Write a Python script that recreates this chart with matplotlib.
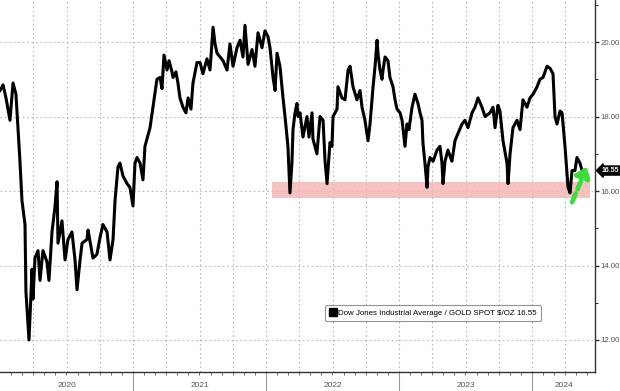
import numpy as np
import matplotlib
matplotlib.use("Agg")
import matplotlib.pyplot as plt
from matplotlib.lines import Line2D

# ---- data (decimal years, Dow / Gold ratio) ----
years = [2020.000, 2020.023, 2020.045, 2020.075, 2020.098, 2020.120, 2020.150, 2020.165, 2020.188, 2020.195,
         2020.218, 2020.241, 2020.248, 2020.263, 2020.286, 2020.301, 2020.323, 2020.353, 2020.368, 2020.391,
         2020.414, 2020.429, 2020.436, 2020.466, 2020.489, 2020.511, 2020.541, 2020.564, 2020.579, 2020.602,
         2020.617, 2020.654, 2020.662, 2020.699, 2020.729, 2020.752, 2020.774, 2020.805, 2020.827, 2020.850,
         2020.865, 2020.887, 2020.902, 2020.925, 2020.955, 2020.977, 2021.000, 2021.015, 2021.030, 2021.053,
         2021.075, 2021.090, 2021.113, 2021.128, 2021.150, 2021.180, 2021.203, 2021.218, 2021.233, 2021.256,
         2021.271, 2021.293, 2021.301, 2021.323, 2021.338, 2021.353, 2021.376, 2021.398, 2021.414, 2021.436,
         2021.451, 2021.481, 2021.504, 2021.526, 2021.556, 2021.579, 2021.602, 2021.617, 2021.632, 2021.654,
         2021.677, 2021.707, 2021.729, 2021.752, 2021.782, 2021.805, 2021.827, 2021.842, 2021.865, 2021.895,
         2021.917, 2021.940, 2021.970, 2021.992, 2022.015, 2022.030, 2022.053, 2022.068, 2022.083, 2022.105,
         2022.128, 2022.143, 2022.158, 2022.165, 2022.180, 2022.195, 2022.203, 2022.218, 2022.233, 2022.241,
         2022.256, 2022.278, 2022.308, 2022.323, 2022.346, 2022.353, 2022.383, 2022.406, 2022.429, 2022.444,
         2022.459, 2022.481, 2022.496, 2022.504, 2022.534, 2022.541, 2022.571, 2022.594, 2022.617, 2022.632,
         2022.654, 2022.684, 2022.707, 2022.722, 2022.744, 2022.767, 2022.782, 2022.805, 2022.820, 2022.835,
         2022.842, 2022.857, 2022.872, 2022.880, 2022.895, 2022.917, 2022.932, 2022.955, 2022.970, 2022.985,
         2023.008, 2023.023, 2023.045, 2023.060, 2023.075, 2023.098, 2023.120, 2023.143, 2023.158, 2023.173,
         2023.180, 2023.195, 2023.211, 2023.218, 2023.233, 2023.256, 2023.286, 2023.308, 2023.323, 2023.331,
         2023.346, 2023.368, 2023.398, 2023.421, 2023.444, 2023.474, 2023.496, 2023.519, 2023.549, 2023.571,
         2023.594, 2023.624, 2023.647, 2023.684, 2023.707, 2023.722, 2023.744, 2023.759, 2023.782, 2023.812,
         2023.820, 2023.835, 2023.857, 2023.887, 2023.910, 2023.932, 2023.962, 2023.985, 2024.008, 2024.038,
         2024.060, 2024.083, 2024.113, 2024.135, 2024.158, 2024.173, 2024.188, 2024.211, 2024.226, 2024.248,
         2024.271, 2024.286, 2024.301, 2024.323, 2024.338, 2024.361, 2024.376]
ratio = [18.70, 18.85, 18.50, 17.90, 18.90, 18.60, 16.80, 15.75, 15.10, 13.30,
         12.00, 13.90, 13.10, 14.20, 14.40, 13.60, 14.40, 14.10, 13.60, 14.90,
         15.60, 16.25, 14.60, 15.20, 14.15, 14.70, 14.90, 14.15, 13.35, 14.15,
         14.60, 14.70, 14.95, 14.20, 14.30, 14.75, 15.10, 14.90, 14.15, 14.70,
         15.75, 16.65, 16.75, 16.40, 16.20, 16.10, 15.60, 16.75, 16.90, 16.75,
         16.30, 17.20, 17.50, 17.70, 18.25, 19.00, 19.05, 18.75, 19.65, 19.25,
         19.50, 19.20, 19.05, 19.20, 18.90, 18.50, 18.25, 18.10, 18.50, 18.20,
         18.90, 19.45, 19.45, 19.15, 19.55, 19.25, 20.40, 19.95, 19.70, 19.60,
         19.50, 19.25, 19.95, 19.35, 19.85, 20.05, 19.60, 20.45, 19.40, 19.80,
         19.35, 20.25, 19.85, 20.30, 20.15, 19.85, 19.05, 18.70, 19.70, 19.35,
         18.50, 18.00, 17.45, 17.20, 15.95, 16.75, 17.65, 18.10, 18.35, 18.00,
         18.10, 17.45, 18.00, 17.45, 18.10, 17.40, 17.00, 18.00, 17.90, 16.80,
         16.20, 17.30, 17.20, 18.00, 18.20, 18.80, 18.50, 18.45, 19.25, 19.35,
         18.80, 18.45, 18.70, 18.25, 17.90, 17.35, 17.80, 18.80, 19.35, 20.05,
         19.70, 19.25, 19.00, 19.25, 19.60, 19.50, 19.05, 18.80, 18.45, 18.20,
         18.10, 17.90, 17.20, 17.80, 17.65, 18.25, 18.60, 18.35, 18.10, 17.90,
         17.30, 16.75, 16.10, 16.65, 16.90, 16.80, 17.10, 17.20, 16.75, 16.20,
         16.80, 17.10, 16.80, 17.35, 17.55, 17.80, 17.90, 17.70, 18.10, 18.25,
         18.50, 18.25, 18.00, 18.10, 18.25, 17.70, 18.30, 18.15, 17.35, 16.75,
         16.20, 17.00, 17.70, 17.90, 17.65, 18.45, 18.25, 18.50, 18.60, 18.80,
         19.00, 19.05, 19.35, 19.30, 19.15, 18.00, 17.80, 18.15, 18.10, 17.20,
         16.10, 15.95, 16.55, 16.55, 16.90, 16.75, 16.55]

series_label = "Dow Jones Industrial Average / GOLD SPOT $/OZ"
year_labels = ["2020", "2021", "2022", "2023", "2024"]
y_major = [12, 14, 16, 18, 20]
support_band = (15.80, 16.25)          # highlighted support zone
support_span = (2022.045, 2024.436)
arrow_from = (2024.301, 15.70)
arrow_to = (2024.414, 16.66)

plt.rcParams["font.family"] = ["Liberation Sans", "DejaVu Sans"]

# ---- figure ----
W, H = 620, 391
fig = plt.figure(figsize=(W / 100, H / 100), dpi=100)
ax = fig.add_axes([0.0, 19 / H, 595 / W, 1 - 19 / H])

x0, x1 = 2020.0, 2020.0 + 595 / 133
ax.set_xlim(x0, x1)
ax.set_ylim(11.14, 21.13)

# grid
for yv in y_major:
    ax.axhline(yv, color="#b8b8b8", lw=0.8, ls=(0, (1.5, 2.5)), zorder=0)
q = 2020.25
while q < x1:
    ax.axvline(q, color="#b8b8b8", lw=0.8, ls=(0, (1.5, 2.5)), zorder=0)
    q += 0.25

# support band
ax.fill_between(list(support_span), support_band[0], support_band[1],
                color="#f4b6b6", alpha=0.85, lw=0, zorder=1)

# main line
ax.plot(years, ratio, color="black", lw=2.2, solid_joinstyle="round", zorder=3)

# green arrow
ax.annotate("", xy=arrow_to, xytext=arrow_from,
            arrowprops=dict(arrowstyle="-|>,head_length=0.6,head_width=0.45",
                            color="#3ddc3d", lw=3.4, ls=(0, (2, 1)),
                            shrinkA=0, shrinkB=0),
            zorder=4)

# spines
for s in ["left", "top"]:
    ax.spines[s].set_visible(False)
ax.spines["right"].set_color("#333333")
ax.spines["bottom"].set_color("#333333")
ax.spines["right"].set_linewidth(1.0)
ax.spines["bottom"].set_linewidth(1.0)

# y axis on right
ax.yaxis.tick_right()
ax.set_yticks(y_major)
ax.set_yticklabels([f"{v:.2f}" for v in y_major])
ax.set_yticks([13, 15, 17, 19, 21], minor=True)
ax.tick_params(axis="y", which="major", length=3, width=1, color="#333333",
               labelsize=5.6, labelcolor="#555555", pad=1.2)
ax.tick_params(axis="y", which="minor", length=2, width=0.8, color="#333333")

# x axis: year separators as major ticks, months as minor
ax.set_xticks([2021, 2022, 2023, 2024])
ax.set_xticklabels([])
ax.set_xticks(np.arange(2020 + 1 / 12, x1, 1 / 12), minor=True)
ax.tick_params(axis="x", which="major", length=14, width=0.8, color="#999999", direction="out")
ax.tick_params(axis="x", which="minor", length=2, width=0.7, color="#777777", direction="out")
centers = [2020.5, 2021.5, 2022.5, 2023.5, (2024 + x1) / 2]
for c, lab in zip(centers, year_labels):
    ax.annotate(lab, xy=(c, 0), xycoords=("data", "axes fraction"),
                xytext=(0, -9.5), textcoords="offset points", ha="center", va="center",
                fontsize=6, color="#555555", annotation_clip=False)

# last value tag
last = ratio[-1]
ax.annotate(f"{last:.2f}", xy=(1.0, last), xycoords=("axes fraction", "data"),
            xytext=(4.5, 0), textcoords="offset points", ha="left", va="center",
            fontsize=5, color="white", fontweight="bold",
            bbox=dict(boxstyle="larrow,pad=0.15", fc="black", ec="black"),
            annotation_clip=False)

# legend
handle = Line2D([], [], color="black", marker="s", ls="none", markersize=5.5)
leg = fig.legend([handle], [f"{series_label} {last:.2f}"], loc="upper left",
                 bbox_to_anchor=(325 / W, 1 - 305 / H), bbox_transform=fig.transFigure,
                 frameon=True, fancybox=True, handlelength=0.8,
                 handletextpad=0.3, borderpad=0.55, borderaxespad=0,
                 prop={"family": ["Liberation Sans Narrow", "Liberation Sans", "DejaVu Sans"], "size": 5.7})
leg.get_frame().set_edgecolor("#777777")
leg.get_frame().set_linewidth(0.8)

fig.savefig("out.png", dpi=100)
